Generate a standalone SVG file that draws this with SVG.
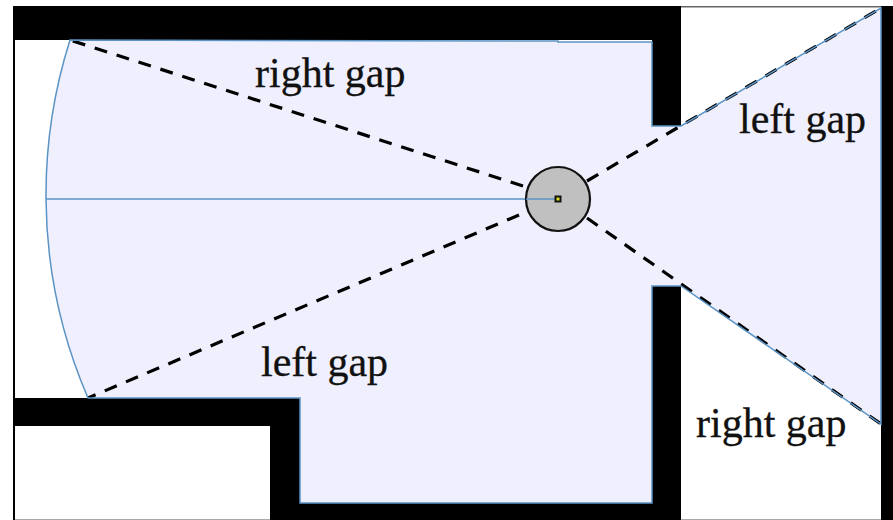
<svg xmlns="http://www.w3.org/2000/svg" width="893" height="520" viewBox="0 0 893 520">
<style>
.wall{fill:#000}
.edge{fill:none;stroke:#5b94c4;stroke-width:1.5}
.gap{fill:none;stroke:#000;stroke-width:3.200;stroke-dasharray:13 10}
text{font-family:"Liberation Serif","Times New Roman",serif;font-size:42px;fill:#111;stroke:#111;stroke-width:.3}
</style>
<rect width="893" height="520" fill="#fff"/>
<g id="walls">
<rect class="wall" x="14" y="6" width="667" height="34"/>
<rect class="wall" x="652" y="6" width="29" height="120"/>
<rect class="wall" x="652" y="286" width="29" height="234"/>
<rect class="wall" x="14" y="398" width="286" height="28"/>
<rect class="wall" x="270" y="398" width="30" height="122"/>
<rect class="wall" x="270" y="503" width="411" height="17"/>
<rect class="wall" x="881" y="6" width="12" height="514"/>
<rect class="wall" x="13" y="6" width="2" height="514"/>
<rect x="15" y="519" width="255" height="1" fill="#aaa"/>
<rect x="681" y="519" width="200" height="1" fill="#aaa"/>
<rect x="681" y="6" width="200" height="1.500" fill="#666"/>
</g>
<g id="visible-area">
<path d="M70 40L558 41L558 42L652 42L652 126L681 126L881 8L881 424L681 286L652 286L652 503L300 503L300 398L88 398A512 512 0 0 1 46 199A512 512 0 0 1 70 40Z" fill="#efeffd"/>
</g>
<g id="connectors">
<path class="gap" d="M523 186L70 40"/>
<path class="gap" d="M519 215L88 398"/>
<path class="gap" d="M587 181L881 8"/>
<path class="gap" d="M587 218L881 424"/>
</g>
<g id="visible-edge">
<path class="edge" d="M70 40L558 41L558 42L652 42L652 126L681 126L881 8L881 424L681 286L652 286L652 503L300 503L300 398L88 398A512 512 0 0 1 46 199A512 512 0 0 1 70 40Z"/>
<path class="edge" d="M46 199H558"/>
</g>
<g id="robot">
<circle cx="558" cy="199" r="32" fill="#c0c0c0" stroke="#111" stroke-width="2.200"/>
<path class="edge" d="M526 199H556"/>
<rect x="555.500" y="196.500" width="5" height="5" fill="#dede20" stroke="#111" stroke-width="2"/>
</g>
<g id="labels">
<text x="255" y="87">right gap</text>
<text x="739" y="133">left gap</text>
<text x="261" y="376">left gap</text>
<text x="696" y="437">right gap</text>
</g>
</svg>
